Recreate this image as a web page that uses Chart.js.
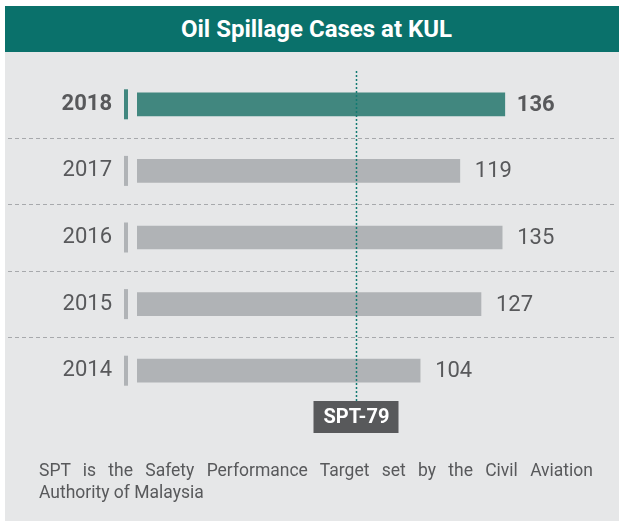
<!DOCTYPE html>
<html>
<head>
<meta charset="utf-8">
<script src="https://cdn.jsdelivr.net/npm/chart.js@4"></script>
<style>
  body { margin: 0; background: #fff; width: 619px; height: 521px; overflow: hidden; position: relative; font-family: Roboto, sans-serif; }
  #panel { position: absolute; left: 5px; top: 52px; width: 614px; height: 469px; background: #e6e7e8; }
  #title { position: absolute; left: 5px; top: 6px; width: 614px; height: 46px; background: #0a716b; }
  #title span { position: absolute; left: 0; width: 623px; top: 0; line-height: 46px; text-align: center; color: #fff; font-weight: bold; font-size: 24px; white-space: nowrap; }
  #chart { position: absolute; left: 0; top: 0; }
  #note { position: absolute; left: 39px; top: 459px; width: 554px; font-size: 17.5px; line-height: 22px; color: #58595b; }
  #note .l1 { display: block; text-align: justify; text-align-last: justify; }
</style>
</head>
<body>
<div id="title"><span>Oil Spillage Cases at KUL</span></div>
<div id="panel"></div>
<canvas id="chart" width="619" height="521"></canvas>
<div id="note"><span class="l1">SPT is the Safety Performance Target set by the Civil Aviation</span>Authority of Malaysia</div>
<script>
const years = ['2018', '2017', '2016', '2015', '2014'];
const cases = [136, 119, 135, 127, 104];
const sptTarget = 79;
const highlightYear = '2018';

const teal = '#41877f';
const grey = '#b0b3b6';
const textColor = '#58595b';

const decor = {
    id: 'decor',
    beforeDatasetsDraw(chart) {
        const c = chart.ctx;
        const y = chart.scales.y;
        c.save();
        // dashed separators between rows
        c.strokeStyle = '#a7a9ac';
        c.lineWidth = 1;
        c.setLineDash([4, 3]);
        for (let i = 0; i < years.length - 1; i++) {
            const py = Math.round((y.getPixelForValue(i) + y.getPixelForValue(i + 1)) / 2) + 0.5;
            c.beginPath();
            c.moveTo(8, py);
            c.lineTo(617, py);
            c.stroke();
        }
        // small markers next to the year labels
        years.forEach((yr, i) => {
            const py = y.getPixelForValue(i);
            c.fillStyle = yr === highlightYear ? teal : grey;
            c.fillRect(124, py - 15, 4, 30);
        });
        c.restore();
    },
    afterDatasetsDraw(chart) {
        const c = chart.ctx;
        const meta = chart.getDatasetMeta(0);
        c.save();
        c.textBaseline = 'middle';
        c.textAlign = 'left';
        c.fillStyle = textColor;
        meta.data.forEach((bar, i) => {
            const bold = years[i] === highlightYear;
            c.font = (bold ? 'bold ' : '') + '22px Roboto';
            c.fillText(cases[i], bar.x + (bold ? 12 : 15), bar.y + 1);
        });

        // SPT target line
        const sx = Math.round(chart.scales.x.getPixelForValue(sptTarget)) + 2.5;
        c.strokeStyle = '#127a72';
        c.lineWidth = 1.5;
        c.setLineDash([2, 2]);
        c.beginPath();
        c.moveTo(sx, 71);
        c.lineTo(sx, 401);
        c.stroke();
        c.setLineDash([]);

        // SPT label box
        c.fillStyle = '#58595b';
        c.fillRect(sx - 43, 401, 85, 32);
        c.fillStyle = '#fff';
        c.font = 'bold 20px Roboto';
        c.textAlign = 'center';
        c.fillText('SPT-' + sptTarget, sx, 418);
        c.restore();
    }
};

new Chart(document.getElementById('chart').getContext('2d'), {
    type: 'bar',
    data: {
        labels: years,
        datasets: [{
            data: cases,
            base: -3,
            backgroundColor: years.map(yr => yr === highlightYear ? teal : grey),
            barThickness: 23
        }]
    },
    options: {
        indexAxis: 'y',
        responsive: false,
        animation: false,
        events: [],
        layout: { padding: { top: 71, bottom: 117, left: 0, right: 11 } },
        plugins: {
            legend: { display: false },
            tooltip: { enabled: false }
        },
        scales: {
            x: { type: 'linear', min: -3, max: 175, display: false },
            y: {
                grid: { display: false, drawTicks: false },
                border: { display: false },
                ticks: {
                    padding: 25,
                    color: textColor,
                    font: ctx => ({ family: 'Roboto', size: 22, weight: ctx.index === 0 ? 'bold' : 'normal' })
                },
                afterFit: scale => { scale.width = 137; }
            }
        }
    },
    plugins: [decor]
});
</script>
</body>
</html>
